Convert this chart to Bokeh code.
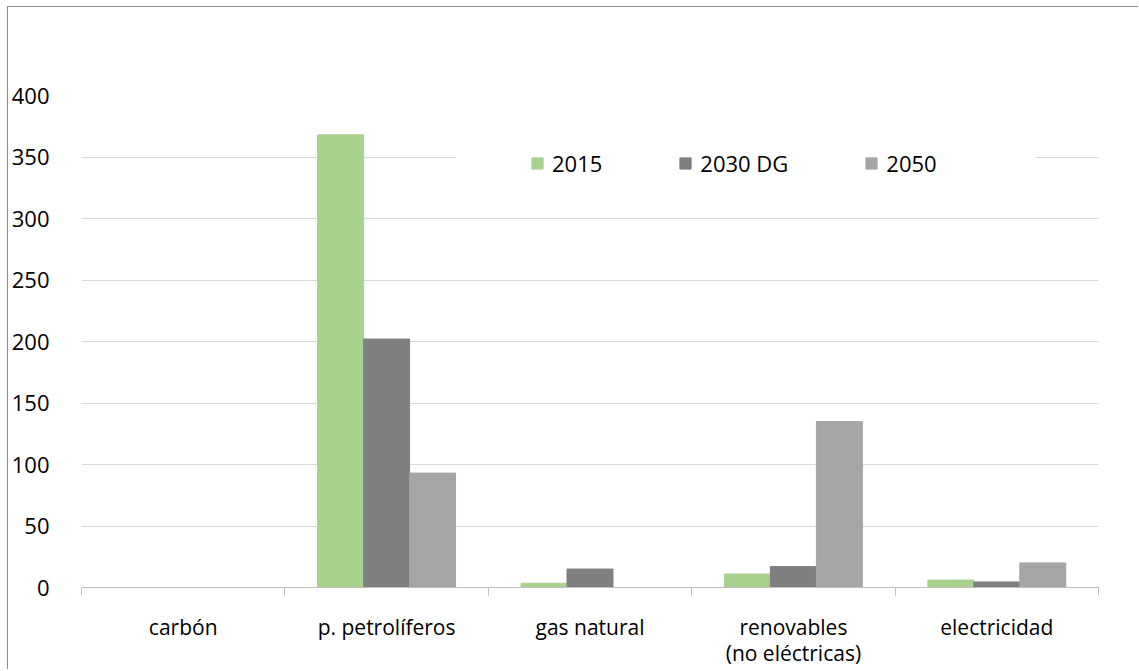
from bokeh.plotting import figure
from bokeh.models import ColumnDataSource, Range1d, FixedTicker, Legend, LegendItem, BoxAnnotation
from bokeh.transform import dodge
from bokeh.embed import file_html
from bokeh.resources import INLINE

categories = ["carbón", "p. petrolíferos", "gas natural", "renovables\n(no eléctricas)", "electricidad"]
series_names = ["2015", "2030 DG", "2050"]
v2015 = [0, 368, 3.5, 11, 6]
v2030 = [0, 202, 15, 17, 4.5]
v2050 = [0, 93, 0, 135, 20]
y_ticks = [0, 50, 100, 150, 200, 250, 300, 350, 400]

colors = ["#A9D18E", "#7F7F7F", "#A5A5A5"]
FONT = "Open Sans"

centers = [i + 0.5 for i in range(len(categories))]
src = ColumnDataSource(dict(x=centers, v2015=v2015, v2030=v2030, v2050=v2050))

p = figure(width=1131, height=663, output_backend="svg", toolbar_location=None,
           x_range=Range1d(0, len(categories)), y_range=Range1d(0, 400),
           min_border_left=70, min_border_right=41, min_border_top=88, min_border_bottom=83)
p.styles = {"margin-left": "7px", "margin-top": "6px",
            "border-left": "1px solid #8c8c8c", "border-top": "1px solid #8c8c8c"}
p.outline_line_color = None
p.background_fill_color = "white"
p.border_fill_color = "white"

bw = 0.226
r1 = p.vbar(x=dodge("x", -bw, range=p.x_range), top="v2015", width=bw, source=src,
            fill_color=colors[0], line_color=colors[0])
r2 = p.vbar(x=dodge("x", 0, range=p.x_range), top="v2030", width=bw, source=src,
            fill_color=colors[1], line_color=colors[1])
r3 = p.vbar(x=dodge("x", bw, range=p.x_range), top="v2050", width=bw, source=src,
            fill_color=colors[2], line_color=colors[2])

# x axis
xa = p.xaxis[0]
xa.ticker = FixedTicker(ticks=centers, minor_ticks=list(range(len(categories) + 1)))
xa.major_label_overrides = {c: lab for c, lab in zip(centers, categories)}
xa.major_tick_line_color = None
xa.major_tick_out = 0
xa.major_tick_in = 0
xa.minor_tick_line_color = "#BFBFBF"
xa.minor_tick_out = 8
xa.minor_tick_in = 0
xa.axis_line_color = "#BFBFBF"
xa.axis_line_width = 1
xa.major_label_text_font = FONT
xa.major_label_text_font_size = "21px"
xa.major_label_text_line_height = 0.95
xa.major_label_text_color = "#000000"
xa.major_label_standoff = 17

# y axis
ya = p.yaxis[0]
ya.ticker = FixedTicker(ticks=y_ticks)
ya.axis_line_color = None
ya.major_tick_line_color = None
ya.minor_tick_line_color = None
ya.major_label_text_font = FONT
ya.major_label_text_font_size = "22px"
ya.major_label_text_color = "#000000"
ya.major_label_standoff = 26

p.xgrid.grid_line_color = None
p.ygrid.ticker = FixedTicker(ticks=y_ticks)
p.ygrid.grid_line_color = "#D9D9D9"
p.ygrid.grid_line_width = 1

# white area behind the legend (as in the original chart)
legend_bg = BoxAnnotation(left=1.84, right=4.69, bottom=338, top=364,
                          fill_color="white", fill_alpha=1, line_color=None)
p.add_layout(legend_bg)

legend = Legend(items=[LegendItem(label=series_names[0], renderers=[r1]),
                       LegendItem(label=series_names[1], renderers=[r2]),
                       LegendItem(label=series_names[2], renderers=[r3])],
                orientation="horizontal", location=(449, 409))
legend.background_fill_color = "white"
legend.background_fill_alpha = 1
legend.border_line_color = None
legend.label_text_font = FONT
legend.label_text_font_size = "22px"
legend.label_text_color = "#000000"
legend.glyph_width = 14
legend.glyph_height = 14
legend.label_standoff = 8
legend.spacing = 76
legend.padding = 10
p.add_layout(legend, "center")

open("out.html", "w").write(file_html(p, INLINE))
